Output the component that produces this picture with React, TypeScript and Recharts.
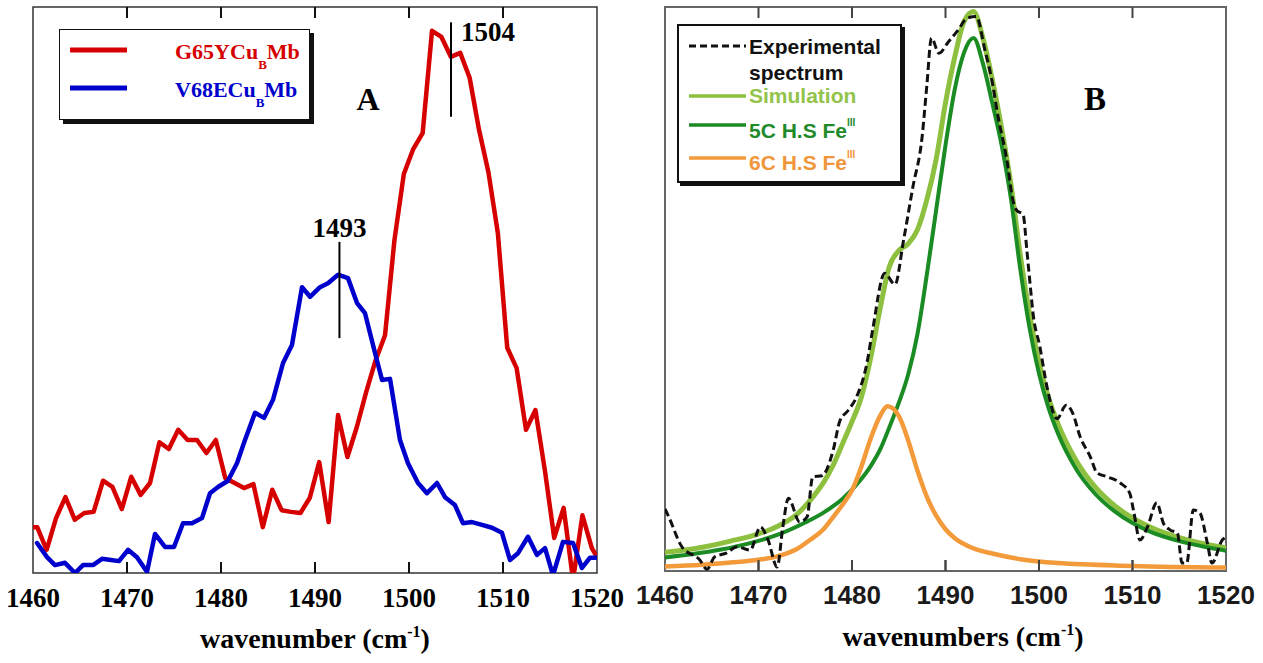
import React from "react";
import {
  Legend,
  Line,
  LineChart,
  ReferenceArea,
  ReferenceDot,
  ReferenceLine,
  XAxis,
  YAxis
} from "recharts";

const SERIF = "'Liberation Serif', 'Times New Roman', serif";
const SANS = "'Liberation Sans', Arial, sans-serif";

const X_DOMAIN: [number, number] = [1460, 1520];
const WAVENUMBER_TICKS = [1460, 1470, 1480, 1490, 1500, 1510, 1520];

// panel A: measured spectra, [wavenumber, intensity (a.u.)]
const G65Y_CUB_MB: [number, number][] = [
  [1460, 8.1], [1460.45, 8.1], [1461.45, 4.1], [1462.45, 9.7], [1463.45, 13.4],
  [1464.45, 9.4], [1465.45, 10.6], [1466.45, 10.8], [1467.45, 16.3], [1468.45, 15.2],
  [1469.45, 11.3], [1470.45, 17.0], [1471.45, 13.8], [1472.45, 15.9], [1473.45, 23.1],
  [1474.45, 21.9], [1475.45, 25.3], [1476.45, 23.5], [1477.45, 23.5], [1478.45, 21.2],
  [1479.45, 23.5], [1480.45, 16.8], [1481.45, 15.9], [1482.45, 15.0], [1483.45, 15.7],
  [1484.45, 8.1], [1485.45, 14.7], [1486.45, 11.1], [1487.45, 10.8], [1488.45, 10.6],
  [1489.45, 13.3], [1490.45, 19.6], [1491.45, 9.0], [1492.45, 27.9], [1493.45, 20.5],
  [1494.45, 25.8], [1495.45, 32.0], [1496.45, 37.6], [1497.45, 42.0], [1498.45, 58.8],
  [1499.45, 70.5], [1500.45, 74.9], [1501.45, 77.7], [1502.45, 95.8], [1503.45, 94.7],
  [1504.45, 91.2], [1505.45, 91.9], [1506.45, 87.5], [1507.45, 78.3], [1508.45, 70.8],
  [1509.45, 60.1], [1510.45, 39.8], [1511.45, 36.2], [1512.45, 25.3], [1513.45, 28.8],
  [1514.45, 18.2], [1515.45, 6.2], [1516.45, 11.5], [1517.45, -1.2], [1518.45, 10.2],
  [1519.45, 4.4], [1520, 2.8]
];

const V68E_CUB_MB: [number, number][] = [
  [1460.43, 5.3], [1461.49, 2.8], [1462.34, 1.4], [1463.4, 1.8], [1464.47, 0],
  [1465.32, 1.4], [1466.38, 1.4], [1467.34, 2.5], [1468.3, 2.3], [1469.15, 2.1],
  [1470.11, 4.1], [1471.06, 2.8], [1472.13, 0.2], [1472.98, 6.9], [1474.04, 4.6],
  [1475.0, 4.6], [1475.96, 8.8], [1476.91, 8.8], [1477.98, 9.7], [1478.83, 14.1],
  [1479.68, 15.2], [1480.74, 16.3], [1481.7, 19.4], [1482.55, 23.5], [1483.62, 28.3],
  [1484.57, 27.4], [1485.53, 30.6], [1486.6, 37.1], [1487.55, 40.3], [1488.62, 50.5],
  [1489.47, 48.8], [1490.53, 50.5], [1491.38, 51.2], [1492.45, 52.7], [1493.51, 52.1],
  [1494.47, 47.7], [1495.32, 45.9], [1496.38, 38.9], [1497.13, 34.1], [1497.98, 34.3],
  [1499.04, 23.5], [1499.89, 19.4], [1500.96, 15.9], [1501.91, 14.1], [1502.98, 15.9],
  [1503.83, 13.4], [1504.89, 12.0], [1505.74, 8.8], [1506.7, 9.0], [1507.77, 8.5],
  [1508.83, 8.0], [1509.89, 7.1], [1510.74, 2.3], [1511.6, 3.5], [1512.66, 6.4],
  [1513.62, 3.2], [1514.47, 4.4], [1515.32, -0.4], [1516.38, 5.5], [1517.45, 5.3],
  [1518.4, 0.9], [1519.26, 2.7], [1520, 2.7]
];

// panel B: experimental spectrum and fitted components
const EXPERIMENTAL: [number, number][] = [
  [1460, 11], [1460.4, 9.6], [1461.8, 4.3], [1463.7, 2.0], [1464.5, 0.3],
  [1465.3, 2.5], [1466.6, 3.2], [1467.7, 4.3], [1469.1, 3.7], [1470.2, 7.8],
  [1471.0, 5.6], [1472.0, 0.7], [1472.6, 7.8], [1473.2, 12.9], [1474.4, 8.7],
  [1475.2, 9.6], [1475.8, 16.7], [1476.8, 16.9], [1478.0, 21.5], [1478.7, 26.6],
  [1479.6, 28.5], [1480.5, 30.9], [1481.6, 36.9], [1482.2, 42.7], [1483.5, 52.8],
  [1484.6, 50.8], [1485.5, 58.5], [1486.5, 68], [1487.5, 77], [1488.0, 86],
  [1488.5, 94.5], [1489.3, 91.8], [1490.3, 93.8], [1491.3, 95.8], [1492.3, 98],
  [1493.3, 98.3], [1494.2, 92.5], [1495.1, 85.8], [1495.5, 81.7], [1496.6, 72.5],
  [1497.2, 65.8], [1497.6, 64], [1498.3, 63.2], [1498.7, 56.9], [1499.04, 51],
  [1499.36, 45.7], [1500.1, 39.7], [1500.86, 32.6], [1501.93, 27], [1502.9, 29.4],
  [1503.6, 28], [1504.4, 23.8], [1505.5, 20.2], [1506.2, 17.4], [1507.3, 16.7],
  [1508.7, 15.6], [1509.7, 13.8], [1510.1, 10.8], [1510.8, 5.5], [1511.6, 7.8],
  [1512.6, 12.1], [1513.3, 8.5], [1514.0, 7.3], [1514.8, 6.7], [1515.3, 1.4],
  [1515.8, 1.4], [1516.5, 10.8], [1517.2, 10.3], [1518.0, 5.0], [1518.5, 1.4],
  [1519.6, 5.5], [1520, 6]
];

const SIMULATION: [number, number][] = [
  [1460, 3.3], [1464, 4.2], [1467, 5.3], [1470, 6.6], [1472, 7.9], [1474, 9.9],
  [1476, 13.5], [1477, 15.8], [1478, 18.8], [1479, 22.6], [1480, 26.5], [1481, 30.8],
  [1482, 37.8], [1483, 46.5], [1484, 54], [1485, 56.8], [1486, 58], [1487, 60.5],
  [1488, 65.8], [1489, 73], [1490, 83], [1491, 91.2], [1492, 97.5], [1493, 99.2],
  [1494, 94.5], [1495, 87.2], [1496, 78.5], [1497, 68.5], [1498, 56], [1499, 45.5],
  [1500, 37], [1501, 30.8], [1502, 26.2], [1504, 19.5], [1506, 14.9], [1508, 11.7],
  [1510, 9.4], [1512, 7.7], [1515, 5.9], [1518, 4.7], [1520, 4.1]
];

const FE_5C_HS: [number, number][] = [
  [1460, 2.4], [1463, 3.0], [1466, 3.8], [1469, 4.9], [1472, 6.4], [1475, 8.6],
  [1477, 10.4], [1479, 12.8], [1481, 16.3], [1482, 18.6], [1483, 21.5], [1484, 25.5],
  [1485, 29.8], [1486, 34.8], [1487, 42], [1488, 52.5], [1489, 64], [1490, 75.5],
  [1491, 85.5], [1492, 92], [1493, 94.5], [1494, 90], [1495, 83], [1496, 75.5],
  [1497, 66], [1498, 53.5], [1499, 43], [1500, 35], [1501, 29], [1502, 24.5],
  [1504, 18], [1506, 13.7], [1508, 10.7], [1510, 8.5], [1512, 6.9], [1515, 5.3],
  [1518, 4.2], [1520, 3.6]
];

const FE_6C_HS: [number, number][] = [
  [1460, 0.8], [1464, 1.1], [1467, 1.5], [1470, 2.0], [1472, 2.6], [1474, 3.8],
  [1475.5, 5.5], [1477, 7.5], [1478, 9.6], [1479, 11.8], [1480, 14.3], [1481, 18.5],
  [1482, 23.5], [1483, 27.5], [1483.8, 29.2], [1485, 27.5], [1486, 23.2], [1487, 17.8],
  [1488, 13.2], [1489, 9.8], [1490, 7.4], [1491, 5.8], [1493, 4.0], [1495, 3.1],
  [1498, 2.1], [1502, 1.4], [1510, 0.9], [1520, 0.6]
];

const toPoints = (rows: [number, number][]) => rows.map(([w, v]) => ({ w, v }));

const RED = "#d60000";
const BLUE = "#0000cc";
const LIGHT_GREEN = "#8dc03f";
const DARK_GREEN = "#1b8b23";
const ORANGE = "#f39a3b";

const isInner = (v: number) => Number(v) > X_DOMAIN[0] && Number(v) < X_DOMAIN[1];

// plot frame with inward tick marks on its top and bottom edges
function Frame(props: any) {
  const { color, lineWidth, tickColor, tickWidth } = props;
  const w = Math.abs(Number(props.width));
  const h = Math.abs(Number(props.height));
  const x = Math.min(Number(props.x), Number(props.x) + Number(props.width));
  const y = Math.min(Number(props.y), Number(props.y) + Number(props.height));
  const [lo, hi] = X_DOMAIN;
  const inner = WAVENUMBER_TICKS.filter(isInner);
  return (
    <g>
      <rect x={x} y={y} width={w} height={h} fill="none" stroke={color} strokeWidth={lineWidth} />
      {inner.map((t) => {
        const px = x + ((t - lo) / (hi - lo)) * w;
        return (
          <g key={t}>
            <line x1={px} x2={px} y1={y} y2={y + 11} stroke={tickColor} strokeWidth={tickWidth} />
            <line x1={px} x2={px} y1={y + h} y2={y + h - 11} stroke={tickColor} strokeWidth={tickWidth} />
          </g>
        );
      })}
    </g>
  );
}

// bottom axis tick: label plus inward tick mark above it
function makeBottomTick(font: any, tickColor: string, tickWidth: number) {
  return (p: any) => {
    const x = Number(p.x);
    const y = Number(p.y);
    const value = p.payload?.value;
    return (
      <g>
        {isInner(value) && (
          <line x1={x} x2={x} y1={y - 15} y2={y - 26} stroke={tickColor} strokeWidth={tickWidth} />
        )}
        <text x={x} y={y} dy="0.71em" textAnchor="middle" {...font}>
          {value}
        </text>
      </g>
    );
  };
}

function AxisTitle({ viewBox, text, dx }: any) {
  const { x, y, width } = viewBox;
  return (
    <text
      x={x + width / 2 + dx}
      y={y + 75}
      textAnchor="middle"
      fontFamily={SERIF}
      fontWeight={700}
      fontSize={28}
      fill="#000"
    >
      {text} (cm
      <tspan dy={-11} fontSize={16}>-1</tspan>
      <tspan dy={11}>)</tspan>
    </text>
  );
}

function Sample({ color, width, dash }: { color: string; width: number; dash?: string }) {
  return (
    <svg width={57} height={10} style={{ position: "absolute", left: 10, top: -5 }}>
      <line x1={0} y1={5} x2={57} y2={5} stroke={color} strokeWidth={width} strokeDasharray={dash} />
    </svg>
  );
}

function LegendA() {
  const rows = [
    { name: "G65YCu", color: RED, line: 20, text: 22 },
    { name: "V68ECu", color: BLUE, line: 58, text: 60 }
  ];
  return (
    <div
      style={{
        position: "relative",
        boxSizing: "border-box",
        width: 251,
        height: 91,
        border: "1.5px solid #111",
        boxShadow: "4px 4px 0 #111",
        background: "#fff"
      }}
    >
      {rows.map((r) => (
        <React.Fragment key={r.name}>
          <div style={{ position: "absolute", left: 0, top: r.line }}>
            <Sample color={r.color} width={5} />
          </div>
          <div
            style={{
              position: "absolute",
              left: 115,
              top: r.text - 11,
              whiteSpace: "nowrap",
              fontFamily: SERIF,
              fontWeight: 700,
              fontSize: 22,
              lineHeight: "22px",
              color: r.color
            }}
          >
            {r.name}
            <span style={{ fontSize: 13, position: "relative", top: 10 }}>B</span>
            Mb
          </div>
        </React.Fragment>
      ))}
    </div>
  );
}

function LegendB() {
  const text = (top: number, color: string, content: React.ReactNode) => (
    <div
      style={{
        position: "absolute",
        left: 70,
        top: top - 11,
        whiteSpace: "nowrap",
        fontFamily: SANS,
        fontWeight: 700,
        fontSize: 21,
        lineHeight: "21px",
        color
      }}
    >
      {content}
    </div>
  );
  const sup = <span style={{ fontSize: 10, position: "relative", top: -12 }}>III</span>;
  return (
    <div
      style={{
        position: "relative",
        boxSizing: "border-box",
        width: 225,
        height: 159,
        border: "2px solid #111",
        boxShadow: "3px 3px 0 #111",
        background: "#fff"
      }}
    >
      <div style={{ position: "absolute", left: 0, top: 20 }}>
        <Sample color="#111" width={3} dash="7 4" />
      </div>
      <div style={{ position: "absolute", left: 0, top: 70 }}>
        <Sample color={LIGHT_GREEN} width={3.5} />
      </div>
      <div style={{ position: "absolute", left: 0, top: 99 }}>
        <Sample color={DARK_GREEN} width={3.5} />
      </div>
      <div style={{ position: "absolute", left: 0, top: 132 }}>
        <Sample color={ORANGE} width={3.5} />
      </div>
      {text(21, "#111", "Experimental")}
      {text(47, "#111", "spectrum")}
      {text(70, "#92c34a", "Simulation")}
      {text(105, "#1f8a2a", <>5C H.S Fe{sup}</>)}
      {text(137, "#f0963a", <>6C H.S Fe{sup}</>)}
    </div>
  );
}

function PanelA() {
  const tickStyle = { fill: "#000", fontSize: 27, fontWeight: 700, fontFamily: SERIF };
  return (
    <div style={{ position: "absolute", left: 0, top: 0 }}>
      <LineChart width={640} height={663} margin={{ top: 7, right: 43, bottom: 30, left: 33 }}>
        <XAxis
          type="number"
          dataKey="w"
          domain={X_DOMAIN}
          ticks={WAVENUMBER_TICKS}
          interval={0}
          allowDataOverflow
          height={60}
          tickSize={0}
          tickMargin={15}
          axisLine={false}
          tickLine={false}
          tick={makeBottomTick(tickStyle, "#111", 2)}
          label={<AxisTitle text="wavenumber" dx={0} />}
        />
        <YAxis hide domain={[0, 100]} allowDataOverflow />
        <ReferenceArea
          x1={X_DOMAIN[0]}
          x2={X_DOMAIN[1]}
          y1={0}
          y2={100}
          shape={(p: any) => <Frame {...p} color="#333" lineWidth={1.5} tickColor="#111" tickWidth={2} />}
        />
        <Line
          data={toPoints(G65Y_CUB_MB)}
          dataKey="v"
          type="linear"
          stroke={RED}
          strokeWidth={4.5}
          strokeLinejoin="round"
          dot={false}
          isAnimationActive={false}
        />
        <Line
          data={toPoints(V68E_CUB_MB)}
          dataKey="v"
          type="linear"
          stroke={BLUE}
          strokeWidth={4.5}
          strokeLinejoin="round"
          strokeLinecap="round"
          dot={false}
          isAnimationActive={false}
        />
        <ReferenceLine segment={[{ x: 1492.6, y: 41.5 }, { x: 1492.6, y: 58.5 }]} stroke="#000" strokeWidth={2} />
        <ReferenceLine segment={[{ x: 1504.47, y: 80.6 }, { x: 1504.47, y: 97.3 }]} stroke="#000" strokeWidth={2} />
        <ReferenceDot
          x={1492.6}
          y={61}
          r={0}
          fill="none"
          stroke="none"
          label={{ value: "1493", position: "center", ...tickStyle }}
        />
        <ReferenceDot
          x={1505.53}
          y={95.6}
          r={0}
          fill="none"
          stroke="none"
          label={{ value: "1504", position: "right", offset: 0, ...tickStyle }}
        />
        <ReferenceDot
          x={1495.64}
          y={83.75}
          r={0}
          fill="none"
          stroke="none"
          label={{ value: "A", position: "center", ...tickStyle, fontSize: 32 }}
        />
        <Legend
          layout="vertical"
          align="center"
          verticalAlign="middle"
          wrapperStyle={{ left: 59, top: 29, width: 251, height: 91 }}
          content={() => <LegendA />}
        />
      </LineChart>
    </div>
  );
}

function PanelB() {
  const tickStyle = { fill: "#1a1a1a", fontSize: 26, fontWeight: 700, fontFamily: SANS };
  return (
    <div style={{ position: "absolute", left: 615, top: 0 }}>
      <LineChart width={648} height={663} margin={{ top: 7, right: 37, bottom: 32, left: 50 }}>
        <XAxis
          type="number"
          dataKey="w"
          domain={X_DOMAIN}
          ticks={WAVENUMBER_TICKS}
          interval={0}
          allowDataOverflow
          height={60}
          tickSize={0}
          tickMargin={15}
          axisLine={false}
          tickLine={false}
          tick={makeBottomTick(tickStyle, "#444", 2)}
          label={<AxisTitle text="wavenumbers" dx={17.5} />}
        />
        <YAxis hide domain={[0, 100]} allowDataOverflow />
        <ReferenceArea
          x1={X_DOMAIN[0]}
          x2={X_DOMAIN[1]}
          y1={0}
          y2={100}
          shape={(p: any) => <Frame {...p} color="#666" lineWidth={2} tickColor="#444" tickWidth={2} />}
        />
        <Line
          data={toPoints(SIMULATION)}
          dataKey="v"
          type="monotone"
          stroke={LIGHT_GREEN}
          strokeWidth={5}
          dot={false}
          isAnimationActive={false}
        />
        <Line
          data={toPoints(FE_5C_HS)}
          dataKey="v"
          type="monotone"
          stroke={DARK_GREEN}
          strokeWidth={4}
          dot={false}
          isAnimationActive={false}
        />
        <Line
          data={toPoints(FE_6C_HS)}
          dataKey="v"
          type="monotone"
          stroke={ORANGE}
          strokeWidth={4.5}
          dot={false}
          isAnimationActive={false}
        />
        <Line
          data={toPoints(EXPERIMENTAL)}
          dataKey="v"
          type="monotone"
          stroke="#111"
          strokeWidth={3}
          strokeDasharray="8 4"
          dot={false}
          isAnimationActive={false}
        />
        <ReferenceDot
          x={1505.99}
          y={83.9}
          r={0}
          fill="none"
          stroke="none"
          label={{ value: "B", position: "center", fill: "#000", fontSize: 33, fontWeight: 700, fontFamily: SERIF }}
        />
        <Legend
          layout="vertical"
          align="center"
          verticalAlign="middle"
          wrapperStyle={{ left: 62, top: 24, width: 225, height: 159 }}
          content={() => <LegendB />}
        />
      </LineChart>
    </div>
  );
}

export default function App() {
  return (
    <div style={{ position: "absolute", left: 0, top: 0, width: 1263, height: 663, background: "#fff" }}>
      <PanelA />
      <PanelB />
    </div>
  );
}
